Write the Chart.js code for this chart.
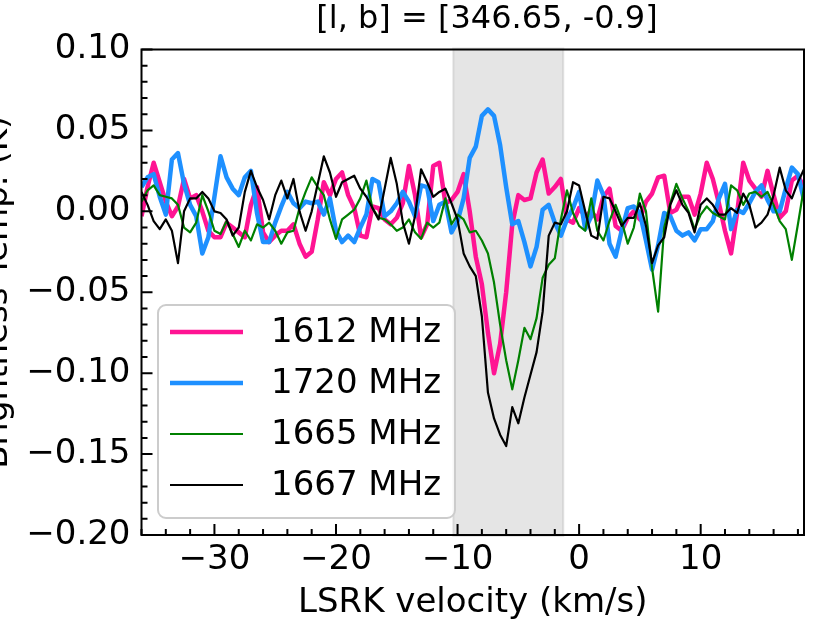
<!DOCTYPE html>
<html>
<head>
<meta charset="utf-8">
<script src="https://cdn.jsdelivr.net/npm/chart.js@4.4.0/dist/chart.umd.min.js"></script>
<style>
  body { margin: 0; background: #fff; }
  canvas { display: block; }
</style>
</head>
<body>
<canvas id="myChart" width="830" height="623"></canvas>
<script>
var velocity = [-36,-35.5,-35,-34.5,-34,-33.5,-33,-32.5,-32,-31.5,-31,-30.5,-30,-29.5,-29,-28.5,-28,-27.5,-27,-26.5,-26,-25.5,-25,-24.5,-24,-23.5,-23,-22.5,
  -22,-21.5,-21,-20.5,-20,-19.5,-19,-18.5,-18,-17.5,-17,-16.5,-16,-15.5,-15,-14.5,-14,-13.5,-13,-12.5,-12,-11.5,-11,-10.5,
  -10,-9.5,-9,-8.5,-8,-7.5,-7,-6.5,-6,-5.5,-5,-4.5,-4,-3.5,-3,-2.5,-2,-1.5,-1,-0.5,0,
  0.5,1,1.5,2,2.5,3,3.5,4,4.5,5,5.5,6,6.5,7,7.5,8,8.5,9,
  9.5,10,10.5,11,11.5,12,12.5,13,13.5,14,14.5,15,15.5,16,16.5,17,17.5,18,18.5];

var t1612 = [-0.003,0.015,0.030,0.018,0.006,-0.003,0.003,0.020,0.008,0.010,0.000,-0.012,-0.016,-0.016,-0.007,-0.010,-0.013,-0.016,0.004,0.015,-0.013,-0.019,-0.015,-0.012,-0.012,-0.008,-0.020,-0.028,
  -0.025,-0.005,0.018,0.010,0.020,0.024,0.010,0.002,-0.015,-0.016,0.003,0.002,-0.005,-0.008,-0.004,0.005,0.028,0.010,-0.016,-0.008,0.028,0.030,0.005,0.007,
  0.012,0.023,0.000,-0.028,-0.045,-0.075,-0.100,-0.082,-0.050,-0.008,0.010,0.007,0.008,0.024,0.032,0.011,0.015,0.020,-0.005,-0.007,0.002,
  -0.003,0.000,-0.005,0.009,0.014,-0.009,-0.012,-0.004,0.000,-0.005,0.006,0.011,0.021,0.022,-0.001,0.001,0.009,0.009,
  -0.002,0.011,0.030,0.020,0.005,-0.012,-0.026,-0.001,0.030,0.019,0.014,0.009,0.025,0.010,-0.004,0.000,0.019,0.022,0.015];

var t1720 = [0.015,0.021,0.023,0.009,-0.002,0.032,0.036,0.017,0.004,-0.003,-0.026,-0.016,0.009,0.034,0.021,0.014,0.010,0.021,0.025,-0.001,-0.019,-0.019,-0.007,0.003,0.012,0.005,0.002,0.006,
  0.005,0.006,-0.002,0.008,-0.012,-0.019,-0.015,-0.019,-0.010,-0.002,0.020,0.018,-0.003,0.000,0.005,0.012,0.006,-0.003,0.016,0.015,-0.006,0.004,0.006,-0.013,
  -0.006,0.008,0.033,0.040,0.059,0.063,0.059,0.041,0.015,-0.008,-0.006,-0.019,-0.034,-0.022,0.001,0.004,-0.007,-0.015,-0.005,0.002,0.012,
  -0.011,-0.003,0.019,0.010,-0.020,-0.028,-0.012,0.002,0.003,-0.001,-0.018,-0.036,-0.021,-0.001,-0.003,-0.012,-0.015,-0.013,
  -0.018,-0.011,-0.011,-0.006,0.008,0.017,-0.011,0.001,-0.001,0.005,0.012,0.016,0.007,0.000,0.000,0.014,0.027,0.023,0.007];

var t1665 = [0.006,0.013,0.016,0.010,0.009,0.008,0.004,-0.010,-0.013,-0.007,0.010,0.000,-0.012,-0.014,-0.006,-0.014,-0.022,-0.012,-0.018,-0.008,-0.010,-0.007,-0.012,-0.020,-0.013,-0.012,0.002,0.012,
  0.021,0.015,0.010,-0.005,-0.017,-0.005,-0.002,0.001,0.008,0.019,0.002,-0.004,-0.005,-0.008,-0.012,-0.010,-0.005,-0.013,-0.017,-0.007,-0.010,-0.007,0.008,-0.008,
  -0.002,-0.005,-0.013,-0.012,-0.018,-0.026,-0.044,-0.070,-0.092,-0.110,-0.092,-0.072,-0.079,-0.066,-0.041,-0.033,-0.029,-0.005,0.013,-0.001,-0.009,
  -0.012,0.008,-0.012,-0.018,-0.006,0.004,-0.006,-0.020,-0.010,0.011,0.000,-0.035,-0.062,-0.010,0.005,0.017,0.008,0.000,
  -0.011,-0.002,0.003,-0.001,-0.003,-0.005,0.016,0.013,0.004,0.011,0.012,0.009,0.012,0.004,-0.006,-0.011,-0.030,-0.008,0.015];

var t1667 = [0.012,0.004,-0.006,-0.011,-0.005,-0.012,-0.032,0.000,0.008,0.008,0.012,0.008,0.000,-0.001,-0.005,-0.015,-0.010,0.012,0.025,0.015,0.007,-0.005,0.010,0.019,0.008,0.020,0.000,-0.012,
  0.000,0.017,0.034,0.024,0.009,0.018,0.020,0.022,0.014,0.009,0.002,-0.005,0.014,0.033,0.017,-0.007,-0.020,-0.003,0.026,0.018,0.009,0.012,0.014,0.005,
  -0.005,-0.026,-0.034,-0.040,-0.065,-0.112,-0.128,-0.138,-0.145,-0.121,-0.131,-0.115,-0.101,-0.087,-0.062,-0.015,-0.007,-0.008,0.000,0.018,0.016,
  0.000,-0.015,-0.017,0.009,0.008,0.000,-0.009,-0.004,-0.004,0.005,-0.009,-0.032,-0.021,-0.016,0.004,0.013,0.004,-0.001,
  -0.013,0.004,0.008,0.004,-0.002,-0.002,0.002,-0.001,0.011,0.004,-0.010,-0.007,-0.002,0.010,0.027,0.013,0.008,0.018,0.026];

var seriesNames = ["1612 MHz", "1720 MHz", "1665 MHz", "1667 MHz"];
var seriesValues = [t1612, t1720, t1665, t1667];
var seriesColors = ["#ff1493", "#1e90ff", "#008000", "#000000"];
var lineWidths = [4.5, 4.5, 2.2, 2.2];

var xTicks = [-30, -20, -10, 0, 10];
var yTicks = [-0.2, -0.15, -0.1, -0.05, 0, 0.05, 0.1];
var shadeRange = [-10.35, -1.3];

var titleText = "[l, b] = [346.65, -0.9]";
var xLabel = "LSRK velocity (km/s)";
var yLabel = "Brightness Temp. (K)";
var font = "DejaVu Sans";

function fmt(v, d) {
  return v.toFixed(d).replace("-", "\u2212");
}

// shading, spines, inward ticks, legend and labels
var decor = {
  id: "decor",
  beforeDatasetsDraw: function (chart) {
    var ctx = chart.ctx, a = chart.chartArea, x = chart.scales.x;
    var x0 = x.getPixelForValue(shadeRange[0]), x1 = x.getPixelForValue(shadeRange[1]);
    ctx.save();
    ctx.fillStyle = "#e5e5e5";
    ctx.fillRect(x0, a.top, x1 - x0, a.bottom - a.top);
    ctx.strokeStyle = "rgba(128,128,128,0.2)";
    ctx.lineWidth = 2;
    ctx.strokeRect(x0, a.top - 1, x1 - x0, a.bottom - a.top + 2);
    ctx.restore();
  },
  afterDatasetsDraw: function (chart) {
    var ctx = chart.ctx, a = chart.chartArea;
    var xs = chart.scales.x, ys = chart.scales.y;
    ctx.save();
    ctx.strokeStyle = "#000";
    ctx.lineWidth = 2;
    ctx.beginPath();
    var v, p;
    for (v = -36; v <= 18.5; v += 2) {
      p = xs.getPixelForValue(v);
      var len = (v % 10 === 0) ? 11 : 6;
      ctx.moveTo(p, a.bottom);
      ctx.lineTo(p, a.bottom - len);
    }
    for (var k = -20; k <= 10; k++) {
      p = ys.getPixelForValue(k / 100);
      var ylen = (k % 5 === 0) ? 11 : 6;
      ctx.moveTo(a.left, p);
      ctx.lineTo(a.left + ylen, p);
    }
    ctx.stroke();
    ctx.strokeRect(a.left, a.top, a.right - a.left, a.bottom - a.top);

    // legend
    var bx = 158, by = 305, bw = 297, bh = 213;
    ctx.beginPath();
    ctx.roundRect(bx, by, bw, bh, 8);
    ctx.fillStyle = "rgba(255,255,255,0.8)";
    ctx.fill();
    ctx.strokeStyle = "#cccccc";
    ctx.lineWidth = 2;
    ctx.stroke();
    ctx.font = "34px '" + font + "'";
    ctx.textBaseline = "middle";
    ctx.textAlign = "left";
    for (var i = 0; i < seriesNames.length; i++) {
      var ry = 332 + i * 51;
      ctx.beginPath();
      ctx.strokeStyle = seriesColors[i];
      ctx.lineWidth = lineWidths[i];
      ctx.moveTo(170, ry);
      ctx.lineTo(243, ry);
      ctx.stroke();
      ctx.fillStyle = "#000";
      ctx.fillText(seriesNames[i], 271, ry + 1);
    }
    ctx.restore();
  },
  afterDraw: function (chart) {
    var ctx = chart.ctx, a = chart.chartArea;
    ctx.save();
    ctx.fillStyle = "#000";
    ctx.textAlign = "center";
    ctx.textBaseline = "middle";
    ctx.font = "32px '" + font + "'";
    ctx.fillText(titleText, 487, 20);
    ctx.font = "34px '" + font + "'";
    ctx.fillText(xLabel, (a.left + a.right) / 2, 603);
    ctx.translate(0, (a.top + a.bottom) / 2);
    ctx.rotate(-Math.PI / 2);
    ctx.textBaseline = "alphabetic";
    ctx.fillText(yLabel, 0, 7);
    ctx.restore();
  }
};

var datasets = seriesValues.map(function (vals, i) {
  return {
    label: seriesNames[i],
    data: vals.map(function (y, j) { return { x: velocity[j], y: y }; }),
    borderColor: seriesColors[i],
    borderWidth: lineWidths[i],
    borderJoinStyle: "round",
    pointRadius: 0,
    tension: 0,
    fill: false,
    order: seriesNames.length - i
  };
});

new Chart("myChart", {
  type: "line",
  data: { datasets: datasets },
  plugins: [decor],
  options: {
    responsive: false,
    animation: false,
    devicePixelRatio: 1,
    layout: { padding: { top: 49.5, right: 26, left: 0, bottom: 0 } },
    plugins: {
      legend: { display: false },
      title: { display: false },
      tooltip: { enabled: false }
    },
    scales: {
      x: {
        type: "linear",
        min: -36,
        max: 18.5,
        afterBuildTicks: function (s) { s.ticks = xTicks.map(function (v) { return { value: v }; }); },
        afterFit: function (s) { s.height = 88; },
        grid: { display: false, drawTicks: false },
        border: { display: false },
        ticks: {
          font: { family: font, size: 34 },
          color: "#000",
          padding: 5,
          maxRotation: 0,
          autoSkip: false,
          callback: function (v) { return fmt(v, 0); }
        }
      },
      y: {
        type: "linear",
        min: -0.2,
        max: 0.1,
        afterBuildTicks: function (s) { s.ticks = yTicks.map(function (v) { return { value: v }; }); },
        afterFit: function (s) { s.width = 141.5; },
        grid: { display: false, drawTicks: false },
        border: { display: false },
        ticks: {
          font: { family: font, size: 34 },
          color: "#000",
          padding: 11,
          autoSkip: false,
          callback: function (v) { return fmt(v, 2); }
        }
      }
    }
  }
});
</script>
</body>
</html>
